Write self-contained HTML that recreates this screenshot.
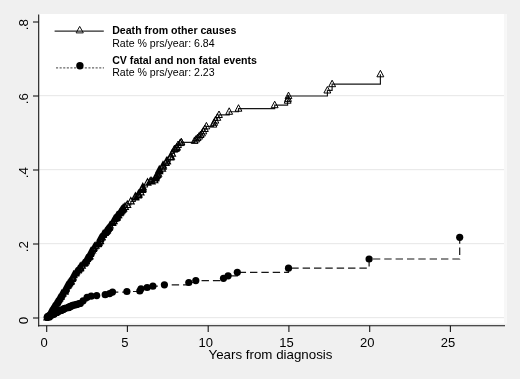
<!DOCTYPE html>
<html><head><meta charset="utf-8"><title>Cumulative incidence</title>
<style>html,body{margin:0;padding:0;background:#f0f0f0;}body{width:520px;height:379px;overflow:hidden}</style></head>
<body>
<svg width="520" height="379" viewBox="0 0 520 379" style="display:block">
<rect width="520" height="379" fill="#f0f0f0"/>
<rect x="39" y="14" width="467.5" height="309.5" fill="#fff"/>
<rect x="504" y="14" width="2.5" height="309.5" fill="#f7f7f7"/>
<line x1="39" x2="504" y1="317.7" y2="317.7" stroke="#e6e6e6" stroke-width="1"/>
<line x1="39" x2="504" y1="243.7" y2="243.7" stroke="#e6e6e6" stroke-width="1"/>
<line x1="39" x2="504" y1="169.7" y2="169.7" stroke="#e6e6e6" stroke-width="1"/>
<line x1="39" x2="504" y1="95.7" y2="95.7" stroke="#e6e6e6" stroke-width="1"/>
<g stroke="#161616" stroke-width="1.1" fill="none">
<line x1="38.7" x2="38.7" y1="14.5" y2="326.5"/>
<line x1="38.1" x2="505" y1="325.8" y2="325.8"/>
<line x1="33" x2="38.7" y1="318.0" y2="318.0"/>
<line x1="33" x2="38.7" y1="244.0" y2="244.0"/>
<line x1="33" x2="38.7" y1="170.0" y2="170.0"/>
<line x1="33" x2="38.7" y1="96.0" y2="96.0"/>
<line x1="33" x2="38.7" y1="22.0" y2="22.0"/>
<line x1="46.7" x2="46.7" y1="325.8" y2="331.9"/>
<line x1="127.4" x2="127.4" y1="325.8" y2="331.9"/>
<line x1="208.2" x2="208.2" y1="325.8" y2="331.9"/>
<line x1="288.9" x2="288.9" y1="325.8" y2="331.9"/>
<line x1="369.7" x2="369.7" y1="325.8" y2="331.9"/>
<line x1="450.4" x2="450.4" y1="325.8" y2="331.9"/>
</g>
<path d="M47.3 317.4H47.3V317.0H47.8V316.6H48.3V316.1H49.7V315.7H50.9V315.3H51.6V314.9H53.6V314.5H53.7V314.0H54.1V313.6H55.0V313.2H55.3V312.8H57.0V312.4H57.2V311.9H57.9V311.5H59.0V311.1H60.5V310.7H61.4V310.3H62.2V309.8H63.3V309.4H63.6V309.0H64.3V308.6H65.8V308.2H68.6V307.7H68.9V307.3H69.1V306.9H70.6V306.5H71.1V306.1H72.3V305.6H73.4V305.2H75.5V304.8H76.7V304.4H78.4V304.0H79.4V303.5H80.3V303.5H83.1V300.8H87.1V297.3H91.2V296.2H96.7V295.6H105.2V294.7H109.6V293.6H112.5V292.1H126.9V291.5H139.8V291.0H141.0V288.8H147.1V287.5H152.9V286.2H164.4V284.8H188.8V282.5H195.8V280.6H223.5V278.3H228.1V275.8H237.3V272.3H288.5V268.2H369.1V259.0H459.7V237.3" fill="none" stroke="#161616" stroke-width="1.2" stroke-dasharray="7.4 3.95" stroke-dashoffset="1.9"/>
<g fill="#000">
<circle cx="47.3" cy="317.4" r="3.6"/>
<circle cx="47.3" cy="317.0" r="3.6"/>
<circle cx="47.8" cy="316.6" r="3.6"/>
<circle cx="48.3" cy="316.1" r="3.6"/>
<circle cx="49.7" cy="315.7" r="3.6"/>
<circle cx="50.9" cy="315.3" r="3.6"/>
<circle cx="51.6" cy="314.9" r="3.6"/>
<circle cx="53.6" cy="314.5" r="3.6"/>
<circle cx="53.7" cy="314.0" r="3.6"/>
<circle cx="54.1" cy="313.6" r="3.6"/>
<circle cx="55.0" cy="313.2" r="3.6"/>
<circle cx="55.3" cy="312.8" r="3.6"/>
<circle cx="57.0" cy="312.4" r="3.6"/>
<circle cx="57.2" cy="311.9" r="3.6"/>
<circle cx="57.9" cy="311.5" r="3.6"/>
<circle cx="59.0" cy="311.1" r="3.6"/>
<circle cx="60.5" cy="310.7" r="3.6"/>
<circle cx="61.4" cy="310.3" r="3.6"/>
<circle cx="62.2" cy="309.8" r="3.6"/>
<circle cx="63.3" cy="309.4" r="3.6"/>
<circle cx="63.6" cy="309.0" r="3.6"/>
<circle cx="64.3" cy="308.6" r="3.6"/>
<circle cx="65.8" cy="308.2" r="3.6"/>
<circle cx="68.6" cy="307.7" r="3.6"/>
<circle cx="68.9" cy="307.3" r="3.6"/>
<circle cx="69.1" cy="306.9" r="3.6"/>
<circle cx="70.6" cy="306.5" r="3.6"/>
<circle cx="71.1" cy="306.1" r="3.6"/>
<circle cx="72.3" cy="305.6" r="3.6"/>
<circle cx="73.4" cy="305.2" r="3.6"/>
<circle cx="75.5" cy="304.8" r="3.6"/>
<circle cx="76.7" cy="304.4" r="3.6"/>
<circle cx="78.4" cy="304.0" r="3.6"/>
<circle cx="79.4" cy="303.5" r="3.6"/>
<circle cx="80.3" cy="303.5" r="3.6"/>
<circle cx="83.1" cy="300.8" r="3.6"/>
<circle cx="87.1" cy="297.3" r="3.6"/>
<circle cx="91.2" cy="296.2" r="3.6"/>
<circle cx="96.7" cy="295.6" r="3.6"/>
<circle cx="105.2" cy="294.7" r="3.6"/>
<circle cx="109.6" cy="293.6" r="3.6"/>
<circle cx="112.5" cy="292.1" r="3.6"/>
<circle cx="126.9" cy="291.5" r="3.6"/>
<circle cx="139.8" cy="291.0" r="3.6"/>
<circle cx="141.0" cy="288.8" r="3.6"/>
<circle cx="147.1" cy="287.5" r="3.6"/>
<circle cx="152.9" cy="286.2" r="3.6"/>
<circle cx="164.4" cy="284.8" r="3.6"/>
<circle cx="188.8" cy="282.5" r="3.6"/>
<circle cx="195.8" cy="280.6" r="3.6"/>
<circle cx="223.5" cy="278.3" r="3.6"/>
<circle cx="228.1" cy="275.8" r="3.6"/>
<circle cx="237.3" cy="272.3" r="3.6"/>
<circle cx="288.5" cy="268.2" r="3.6"/>
<circle cx="369.1" cy="259.0" r="3.6"/>
<circle cx="459.7" cy="237.3" r="3.6"/>
</g>
<path d="M47.3 317.4H47.3V317.2H48.0V317.1H48.5V316.7H48.6V315.9H49.0V315.3H49.1V314.8H49.6V314.5H49.8V313.9H49.9V313.5H50.2V312.2H50.8V311.8H51.0V311.5H51.1V311.4H51.4V310.5H51.5V310.3H51.9V310.2H52.3V309.6H53.1V309.6H53.1V308.4H53.1V307.6H53.2V307.3H53.3V307.2H53.4V307.2H54.4V306.7H54.5V306.5H54.5V306.1H54.6V305.6H55.0V305.0H55.1V304.7H55.8V303.6H55.9V303.4H56.1V303.3H56.2V303.1H56.2V302.9H56.5V302.7H56.6V302.6H57.4V302.2H57.6V300.9H58.2V300.4H58.3V299.6H58.4V299.3H58.5V299.2H58.9V298.6H59.0V298.5H59.7V298.2H60.6V297.1H60.7V296.4H60.8V295.7H60.9V295.5H61.0V295.1H61.4V294.8H61.6V294.6H61.7V294.0H61.9V293.9H62.8V293.5H63.6V291.8H64.8V291.6H65.0V290.6H65.1V289.9H65.1V289.4H65.2V289.2H65.5V288.9H65.8V288.7H66.0V288.4H66.0V287.5H66.4V286.5H66.7V286.0H67.4V285.7H67.6V285.5H67.6V285.2H67.9V284.7H68.0V284.2H68.5V284.1H68.6V283.9H69.0V283.2H69.1V283.2H69.2V282.9H69.2V282.6H69.5V282.4H70.3V282.0H70.8V281.9H71.0V280.7H72.1V279.0H72.1V278.9H72.3V278.0H72.5V277.9H72.9V277.2H73.3V275.4H73.8V274.6H75.3V273.4H75.5V273.3H75.5V273.1H75.8V272.7H76.4V271.6H78.1V270.5H78.3V269.7H78.3V269.4H79.4V268.8H80.0V268.2H80.2V268.1H80.3V267.8H80.3V266.5H81.8V265.8H82.2V265.6H83.3V263.7H84.2V263.6H85.0V262.7H85.7V261.5H85.7V261.0H85.9V260.9H86.0V260.8H86.1V260.1H86.4V259.0H86.9V258.9H87.2V258.6H87.9V257.8H87.9V257.5H88.5V257.2H89.5V256.7H89.6V256.1H89.9V254.0H90.0V253.6H90.4V253.2H90.5V253.0H90.6V252.5H90.6V252.0H91.0V251.5H91.1V251.2H92.3V250.5H93.1V249.0H93.2V248.7H93.7V248.0H94.5V246.4H95.9V245.8H97.7V244.2H98.0V243.9H98.2V243.5H98.4V243.0H99.0V242.4H100.2V241.1H100.2V240.8H100.3V240.6H100.3V239.0H100.4V237.8H101.5V237.7H101.9V236.9H103.0V235.0H103.1V234.4H103.2V234.0H105.1V233.0H105.3V232.0H105.9V231.8H105.9V231.5H106.1V231.1H106.3V230.8H106.7V230.7H106.9V230.6H107.2V230.1H107.3V229.2H108.0V229.0H108.6V228.1H109.0V227.5H109.4V227.1H110.0V225.5H112.4V222.9H112.5V222.2H113.7V221.3H113.8V220.7H114.3V219.1H115.3V218.4H115.7V218.3H116.0V217.9H116.7V217.8H116.8V217.5H116.8V217.1H116.8V216.8H116.8V215.8H117.5V215.6H118.1V215.4H118.5V215.2H119.5V213.1H120.1V212.5H120.9V211.5H121.3V210.3H121.8V210.2H122.6V209.4H123.0V208.7H123.2V208.5H123.2V208.1H125.0V206.8H127.3V205.0H130.8V201.3H135.3V197.4H135.4V196.5H137.9V195.4H138.5V194.6H138.5V194.2H140.6V192.3H141.9V189.8H142.3V189.3H142.4V188.8H142.5V188.3H142.8V187.0H147.5V182.6H150.3V181.5H151.7V181.3H154.4V180.1H155.2V178.2H155.6V177.4H155.8V177.0H156.4V175.9H157.5V175.0H158.2V173.6H159.2V171.2H159.2V170.7H159.3V169.8H162.1V168.6H162.7V166.6H163.0V165.5H165.7V162.9H166.5V161.5H167.1V161.2H170.3V157.3H171.0V156.7H172.1V153.5H174.3V149.5H174.9V149.0H176.0V148.7H176.8V147.8H176.9V147.1H178.1V144.9H180.2V143.1H181.3V142.5H181.3V142.3H194.6V140.8H196.1V139.4H197.6V138.0H199.1V136.5H200.6V134.9H202.0V133.4H203.3V131.3H204.9V128.9H206.4V126.3H213.4V124.5H214.2V122.7H215.4V120.5H217.3V117.7H219.0V114.9H229.2V111.7H238.5V108.6H274.7V105.1H287.6V100.6H288.0V98.8H288.5V96.0H327.4V90.4H332.1V84.1H380.4V74.2" fill="none" stroke="#161616" stroke-width="1.15"/>
<path d="M47.3 313.7L50.5 319.9L44.0 319.9ZM47.3 313.5L50.5 319.7L44.0 319.7ZM48.0 313.3L51.2 319.5L44.7 319.5ZM48.5 313.0L51.7 319.2L45.2 319.2ZM48.6 312.2L51.8 318.4L45.3 318.4ZM49.0 311.6L52.3 317.8L45.8 317.8ZM49.1 311.0L52.3 317.2L45.8 317.2ZM49.6 310.8L52.8 317.0L46.3 317.0ZM49.8 310.2L53.0 316.4L46.5 316.4ZM49.9 309.8L53.1 316.0L46.6 316.0ZM50.2 308.5L53.5 314.7L47.0 314.7ZM50.8 308.1L54.0 314.3L47.5 314.3ZM51.0 307.8L54.2 314.0L47.7 314.0ZM51.1 307.7L54.3 313.9L47.8 313.9ZM51.4 306.8L54.6 313.0L48.1 313.0ZM51.5 306.6L54.7 312.8L48.2 312.8ZM51.9 306.5L55.2 312.7L48.7 312.7ZM52.3 305.9L55.6 312.1L49.1 312.1ZM53.1 305.8L56.3 312.0L49.8 312.0ZM53.1 304.6L56.4 310.8L49.9 310.8ZM53.1 303.9L56.4 310.1L49.9 310.1ZM53.2 303.6L56.5 309.8L50.0 309.8ZM53.3 303.5L56.5 309.7L50.0 309.7ZM53.4 303.4L56.6 309.6L50.1 309.6ZM54.4 302.9L57.6 309.1L51.1 309.1ZM54.5 302.7L57.8 308.9L51.3 308.9ZM54.5 302.3L57.8 308.5L51.3 308.5ZM54.6 301.9L57.8 308.1L51.3 308.1ZM55.0 301.3L58.2 307.5L51.7 307.5ZM55.1 300.9L58.4 307.1L51.9 307.1ZM55.8 299.9L59.0 306.1L52.5 306.1ZM55.9 299.7L59.2 305.9L52.7 305.9ZM56.1 299.6L59.3 305.8L52.8 305.8ZM56.2 299.3L59.4 305.5L52.9 305.5ZM56.2 299.2L59.4 305.4L52.9 305.4ZM56.5 298.9L59.7 305.1L53.2 305.1ZM56.6 298.8L59.8 305.0L53.3 305.0ZM57.4 298.4L60.6 304.6L54.1 304.6ZM57.6 297.2L60.8 303.4L54.3 303.4ZM58.2 296.6L61.4 302.8L54.9 302.8ZM58.3 295.9L61.5 302.1L55.0 302.1ZM58.4 295.6L61.7 301.8L55.2 301.8ZM58.5 295.5L61.8 301.7L55.3 301.7ZM58.9 294.9L62.2 301.1L55.7 301.1ZM59.0 294.8L62.3 301.0L55.8 301.0ZM59.7 294.5L62.9 300.7L56.4 300.7ZM60.6 293.3L63.8 299.5L57.3 299.5ZM60.7 292.7L64.0 298.9L57.5 298.9ZM60.8 291.9L64.0 298.1L57.5 298.1ZM60.9 291.8L64.1 298.0L57.6 298.0ZM61.0 291.4L64.2 297.6L57.7 297.6ZM61.4 291.1L64.7 297.3L58.2 297.3ZM61.6 290.9L64.8 297.1L58.3 297.1ZM61.7 290.3L64.9 296.5L58.4 296.5ZM61.9 290.2L65.1 296.4L58.6 296.4ZM62.8 289.7L66.1 295.9L59.6 295.9ZM63.6 288.1L66.8 294.3L60.3 294.3ZM64.8 287.9L68.1 294.1L61.6 294.1ZM65.0 286.8L68.3 293.0L61.8 293.0ZM65.1 286.1L68.3 292.3L61.8 292.3ZM65.1 285.7L68.4 291.9L61.9 291.9ZM65.2 285.4L68.4 291.6L61.9 291.6ZM65.5 285.2L68.7 291.4L62.2 291.4ZM65.8 285.0L69.0 291.2L62.5 291.2ZM66.0 284.6L69.2 290.8L62.7 290.8ZM66.0 283.8L69.2 290.0L62.7 290.0ZM66.4 282.8L69.6 289.0L63.1 289.0ZM66.7 282.2L70.0 288.4L63.5 288.4ZM67.4 282.0L70.7 288.2L64.2 288.2ZM67.6 281.7L70.8 287.9L64.3 287.9ZM67.6 281.5L70.8 287.7L64.3 287.7ZM67.9 280.9L71.2 287.1L64.7 287.1ZM68.0 280.5L71.3 286.7L64.8 286.7ZM68.5 280.4L71.8 286.6L65.3 286.6ZM68.6 280.2L71.8 286.4L65.3 286.4ZM69.0 279.5L72.3 285.7L65.8 285.7ZM69.1 279.4L72.4 285.6L65.9 285.6ZM69.2 279.2L72.4 285.4L65.9 285.4ZM69.2 278.8L72.5 285.0L66.0 285.0ZM69.5 278.7L72.7 284.9L66.2 284.9ZM70.3 278.2L73.5 284.4L67.0 284.4ZM70.8 278.1L74.0 284.3L67.5 284.3ZM71.0 277.0L74.3 283.2L67.8 283.2ZM72.1 275.3L75.3 281.5L68.8 281.5ZM72.1 275.2L75.4 281.4L68.9 281.4ZM72.3 274.3L75.6 280.5L69.1 280.5ZM72.5 274.1L75.7 280.3L69.2 280.3ZM72.9 273.5L76.2 279.7L69.7 279.7ZM73.3 271.6L76.6 277.8L70.1 277.8ZM73.8 270.9L77.0 277.1L70.5 277.1ZM75.3 269.7L78.5 275.9L72.0 275.9ZM75.5 269.6L78.7 275.8L72.2 275.8ZM75.5 269.4L78.8 275.6L72.3 275.6ZM75.8 269.0L79.0 275.2L72.5 275.2ZM76.4 267.9L79.6 274.1L73.1 274.1ZM78.1 266.8L81.3 273.0L74.8 273.0ZM78.3 266.0L81.5 272.2L75.0 272.2ZM78.3 265.7L81.6 271.9L75.1 271.9ZM79.4 265.0L82.7 271.2L76.2 271.2ZM80.0 264.5L83.3 270.7L76.8 270.7ZM80.2 264.4L83.5 270.6L77.0 270.6ZM80.3 264.0L83.6 270.2L77.1 270.2ZM80.3 262.7L83.6 268.9L77.1 268.9ZM81.8 262.1L85.0 268.3L78.5 268.3ZM82.2 261.9L85.4 268.1L78.9 268.1ZM83.3 259.9L86.6 266.1L80.1 266.1ZM84.2 259.8L87.4 266.0L80.9 266.0ZM85.0 258.9L88.3 265.1L81.8 265.1ZM85.7 257.8L89.0 264.0L82.5 264.0ZM85.7 257.2L89.0 263.4L82.5 263.4ZM85.9 257.1L89.2 263.3L82.7 263.3ZM86.0 257.0L89.3 263.2L82.8 263.2ZM86.1 256.3L89.4 262.5L82.9 262.5ZM86.4 255.3L89.7 261.5L83.2 261.5ZM86.9 255.2L90.2 261.4L83.7 261.4ZM87.2 254.8L90.4 261.0L83.9 261.0ZM87.9 254.0L91.1 260.2L84.6 260.2ZM87.9 253.8L91.2 260.0L84.7 260.0ZM88.5 253.5L91.8 259.7L85.3 259.7ZM89.5 253.0L92.7 259.2L86.2 259.2ZM89.6 252.3L92.9 258.5L86.4 258.5ZM89.9 250.3L93.1 256.5L86.6 256.5ZM90.0 249.9L93.3 256.1L86.8 256.1ZM90.4 249.4L93.7 255.6L87.2 255.6ZM90.5 249.3L93.7 255.5L87.2 255.5ZM90.6 248.8L93.8 255.0L87.3 255.0ZM90.6 248.3L93.9 254.5L87.4 254.5ZM91.0 247.8L94.2 254.0L87.7 254.0ZM91.1 247.5L94.4 253.7L87.9 253.7ZM92.3 246.7L95.6 252.9L89.1 252.9ZM93.1 245.3L96.4 251.5L89.9 251.5ZM93.2 245.0L96.4 251.2L89.9 251.2ZM93.7 244.3L97.0 250.5L90.5 250.5ZM94.5 242.7L97.8 248.9L91.3 248.9ZM95.9 242.1L99.1 248.3L92.6 248.3ZM97.7 240.5L100.9 246.7L94.4 246.7ZM98.0 240.2L101.3 246.4L94.8 246.4ZM98.2 239.7L101.4 245.9L94.9 245.9ZM98.4 239.3L101.6 245.5L95.1 245.5ZM99.0 238.7L102.2 244.9L95.7 244.9ZM100.2 237.4L103.4 243.6L96.9 243.6ZM100.2 237.1L103.5 243.3L97.0 243.3ZM100.3 236.9L103.5 243.1L97.0 243.1ZM100.3 235.3L103.6 241.5L97.1 241.5ZM100.4 234.1L103.6 240.3L97.1 240.3ZM101.5 234.0L104.8 240.2L98.3 240.2ZM101.9 233.2L105.2 239.4L98.7 239.4ZM103.0 231.2L106.2 237.4L99.7 237.4ZM103.1 230.6L106.4 236.8L99.9 236.8ZM103.2 230.3L106.5 236.5L100.0 236.5ZM105.1 229.3L108.3 235.5L101.8 235.5ZM105.3 228.3L108.6 234.5L102.1 234.5ZM105.9 228.1L109.1 234.3L102.6 234.3ZM105.9 227.8L109.2 234.0L102.7 234.0ZM106.1 227.4L109.4 233.6L102.9 233.6ZM106.3 227.1L109.6 233.3L103.1 233.3ZM106.7 227.0L110.0 233.2L103.5 233.2ZM106.9 226.8L110.2 233.0L103.7 233.0ZM107.2 226.4L110.4 232.6L103.9 232.6ZM107.3 225.4L110.6 231.6L104.1 231.6ZM108.0 225.3L111.2 231.5L104.7 231.5ZM108.6 224.3L111.8 230.5L105.3 230.5ZM109.0 223.7L112.3 229.9L105.8 229.9ZM109.4 223.3L112.6 229.5L106.1 229.5ZM110.0 221.8L113.2 228.0L106.7 228.0ZM112.4 219.2L115.7 225.4L109.2 225.4ZM112.5 218.5L115.7 224.7L109.2 224.7ZM113.7 217.5L117.0 223.7L110.5 223.7ZM113.8 216.9L117.0 223.1L110.5 223.1ZM114.3 215.3L117.6 221.5L111.1 221.5ZM115.3 214.7L118.5 220.9L112.0 220.9ZM115.7 214.6L119.0 220.8L112.5 220.8ZM116.0 214.2L119.2 220.4L112.7 220.4ZM116.7 214.0L119.9 220.2L113.4 220.2ZM116.8 213.8L120.0 220.0L113.5 220.0ZM116.8 213.4L120.1 219.6L113.6 219.6ZM116.8 213.1L120.1 219.3L113.6 219.3ZM116.8 212.1L120.1 218.3L113.6 218.3ZM117.5 211.8L120.7 218.0L114.2 218.0ZM118.1 211.6L121.4 217.8L114.9 217.8ZM118.5 211.5L121.8 217.7L115.3 217.7Z" fill="none" stroke="#000" stroke-width="1.1"/>
<path d="M119.5 209.2L122.9 215.6L116.1 215.6ZM120.1 208.6L123.5 215.0L116.7 215.0ZM120.9 207.6L124.3 214.0L117.5 214.0ZM121.3 206.5L124.7 212.9L117.9 212.9ZM121.8 206.3L125.2 212.7L118.4 212.7ZM122.6 205.5L126.0 211.9L119.2 211.9ZM123.0 204.8L126.4 211.2L119.6 211.2ZM123.2 204.6L126.6 211.0L119.8 211.0ZM123.2 204.2L126.6 210.6L119.8 210.6ZM125.0 202.9L128.4 209.3L121.6 209.3ZM127.3 201.1L130.7 207.5L123.9 207.5ZM130.8 197.4L134.2 203.8L127.4 203.8ZM135.3 193.6L138.7 200.0L131.9 200.0ZM135.4 192.7L138.8 199.1L132.0 199.1ZM137.9 191.6L141.3 198.0L134.5 198.0ZM138.5 190.7L141.9 197.1L135.1 197.1ZM138.5 190.3L141.9 196.7L135.1 196.7ZM140.6 188.4L144.0 194.8L137.2 194.8ZM141.9 185.9L145.3 192.3L138.5 192.3ZM142.3 185.4L145.7 191.8L138.9 191.8ZM142.4 185.0L145.8 191.4L139.0 191.4ZM142.5 184.4L145.9 190.8L139.1 190.8ZM142.8 183.2L146.2 189.6L139.4 189.6ZM147.5 178.7L150.9 185.1L144.1 185.1ZM150.3 177.6L153.7 184.0L146.9 184.0ZM151.7 177.4L155.1 183.8L148.3 183.8ZM154.4 176.3L157.8 182.7L151.0 182.7ZM155.2 174.4L158.6 180.8L151.8 180.8ZM155.6 173.5L159.0 179.9L152.2 179.9ZM155.8 173.2L159.2 179.6L152.4 179.6ZM156.4 172.1L159.8 178.5L153.0 178.5ZM157.5 171.1L160.9 177.5L154.1 177.5ZM158.2 169.7L161.6 176.1L154.8 176.1ZM159.2 167.3L162.6 173.7L155.8 173.7ZM159.2 166.9L162.6 173.3L155.8 173.3ZM159.3 166.0L162.7 172.4L155.9 172.4ZM162.1 164.7L165.5 171.1L158.7 171.1ZM162.7 162.8L166.1 169.2L159.3 169.2ZM163.0 161.6L166.4 168.0L159.6 168.0ZM165.7 159.0L169.1 165.4L162.3 165.4ZM166.5 157.6L169.9 164.0L163.1 164.0ZM167.1 157.3L170.5 163.7L163.7 163.7ZM170.3 153.4L173.7 159.8L166.9 159.8ZM171.0 152.8L174.4 159.2L167.6 159.2ZM172.1 149.7L175.5 156.1L168.7 156.1Z" fill="none" stroke="#000" stroke-width="1.15"/>
<path d="M174.3 145.6L177.8 152.1L170.9 152.1ZM174.9 145.1L178.3 151.6L171.4 151.6ZM176.0 144.8L179.4 151.3L172.5 151.3ZM176.8 143.9L180.2 150.4L173.3 150.4ZM176.9 143.2L180.3 149.7L173.4 149.7ZM178.1 141.0L181.5 147.5L174.6 147.5ZM180.2 139.1L183.7 145.6L176.8 145.6ZM181.3 138.5L184.8 145.0L177.9 145.0ZM181.3 138.4L184.8 144.9L177.9 144.9ZM194.6 136.9L198.0 143.4L191.2 143.4ZM196.1 135.5L199.5 142.0L192.7 142.0ZM197.6 134.1L201.0 140.6L194.2 140.6ZM199.1 132.6L202.5 139.1L195.7 139.1ZM200.6 131.0L204.0 137.5L197.2 137.5ZM202.0 129.5L205.4 136.0L198.6 136.0ZM203.3 127.4L206.8 133.9L199.9 133.9ZM204.9 125.0L208.3 131.5L201.5 131.5ZM206.4 122.4L209.8 128.9L203.0 128.9ZM213.4 120.6L216.8 127.1L210.0 127.1ZM214.2 118.8L217.6 125.3L210.8 125.3ZM215.4 116.6L218.8 123.1L212.0 123.1ZM217.3 113.8L220.8 120.3L213.9 120.3ZM219.0 111.0L222.4 117.5L215.6 117.5ZM229.2 107.8L232.6 114.3L225.8 114.3ZM238.5 104.7L241.9 111.2L235.1 111.2ZM274.7 101.2L278.1 107.7L271.2 107.7ZM287.6 96.7L291.1 103.2L284.2 103.2ZM288.0 94.9L291.4 101.4L284.6 101.4ZM288.5 92.1L291.9 98.6L285.1 98.6ZM327.4 86.5L330.8 93.0L323.9 93.0ZM332.1 80.2L335.6 86.7L328.7 86.7ZM380.4 70.3L383.8 76.8L376.9 76.8Z" fill="none" stroke="#000" stroke-width="1"/>
<line x1="54.6" x2="103.8" y1="31.1" y2="31.1" stroke="#2a2a2a" stroke-width="1.15"/>
<path d="M79.7 26.4L83.3 32.9L76.1 32.9Z" fill="none" stroke="#111" stroke-width="1"/>
<line x1="56" x2="104" y1="67.9" y2="67.9" stroke="#666" stroke-width="1.2" stroke-dasharray="2.1 1.5"/>
<circle cx="79.9" cy="65.8" r="3.7" fill="#000"/>
<g font-family="Liberation Sans, Arial, sans-serif" fill="#000" font-size="10.6">
<text x="112.2" y="33.5" font-weight="bold">Death from other causes</text>
<text x="112.2" y="46.8">Rate % prs/year: 6.84</text>
<text x="112.2" y="63.5" font-weight="bold">CV fatal and non fatal events</text>
<text x="112.2" y="76.4">Rate % prs/year: 2.23</text>
</g>
<g font-family="Liberation Sans, Arial, sans-serif" fill="#000" font-size="13.4" text-anchor="middle">
<text x="44.2" y="346.6" font-size="13">0</text>
<text x="124.9" y="346.6" font-size="13">5</text>
<text x="205.7" y="346.6" font-size="13">10</text>
<text x="286.4" y="346.6" font-size="13">15</text>
<text x="367.2" y="346.6" font-size="13">20</text>
<text x="447.9" y="346.6" font-size="13">25</text>
<text transform="translate(27.9 320.6) rotate(-90)">0</text>
<text transform="translate(27.9 246.6) rotate(-90)">.2</text>
<text transform="translate(27.9 172.6) rotate(-90)">.4</text>
<text transform="translate(27.9 98.6) rotate(-90)">.6</text>
<text transform="translate(27.9 24.6) rotate(-90)">.8</text>
<text x="270.5" y="358.8" font-size="13.33">Years from diagnosis</text>
</g>
</svg>
</body></html>
